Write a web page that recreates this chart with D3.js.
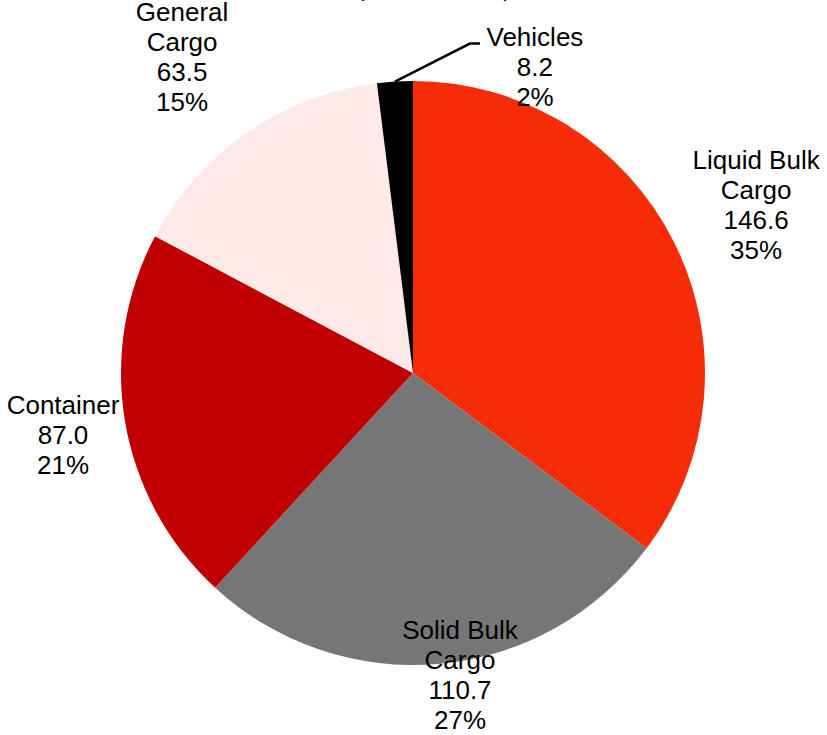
<!DOCTYPE html>
<html>
<head>
<meta charset="utf-8">
<script src="https://cdn.jsdelivr.net/npm/d3@7"></script>
<style>
  body { margin: 0; background: #fff; }
  text { font-family: "Liberation Sans", Arial, sans-serif; font-size: 26px; fill: #000; }
</style>
</head>
<body>
<div id="chart"></div>
<script>
// cargo throughput, million tonnes
const categories = ['Liquid Bulk Cargo', 'Solid Bulk Cargo', 'Container', 'General Cargo', 'Vehicles'];
const labelLines = [['Liquid Bulk', 'Cargo'], ['Solid Bulk', 'Cargo'], ['Container'], ['General', 'Cargo'], ['Vehicles']];
const values = [146.6, 110.7, 87.0, 63.5, 8.2];
const colors = ['#f42d08', '#767676', '#c00000', '#fde9e7', '#000000'];

const width = 827, height = 735;
const cx = 413, cy = 373, radius = 292;
const lineH = 30;

// label placement: [distance as fraction of radius, angle nudge in degrees]
const labelPos = [[1.308, 0.5], [1.048, -3.6], [1.217, -0.3], [1.34, -1.6], null];

const svg = d3.select('#chart').append('svg')
    .attr('width', width)
    .attr('height', height);

// title sits off the top edge in the original, only its bottom shows
svg.append('text')
    .attr('x', 434)
    .attr('y', -4)
    .attr('text-anchor', 'middle')
    .style('font-size', '22px')
    .text('(Million Tonnes)');

const total = d3.sum(values);
const rows = categories.map((c, i) => ({name: c, lines: labelLines[i], value: values[i], color: colors[i], i: i}));

const pie = d3.pie().sort(null).value(d => d.value);
const arc = d3.arc().innerRadius(0).outerRadius(radius);
const arcs = pie(rows);

const g = svg.append('g').attr('transform', `translate(${cx},${cy})`);

g.selectAll('path')
    .data(arcs)
  .join('path')
    .attr('d', arc)
    .attr('fill', d => d.data.color);

const fmt = d3.format('.1f');

function labelText(d) {
    const pct = Math.round(d.data.value / total * 100) + '%';
    return d.data.lines.concat([fmt(d.data.value), pct]);
}

arcs.forEach(d => {
    const mid = (d.startAngle + d.endAngle) / 2;
    const pos = labelPos[d.data.i];
    let lx, ly;
    if (pos) {
        const r = radius * pos[0];
        const a = mid + pos[1] * Math.PI / 180;
        lx = Math.sin(a) * r;
        ly = -Math.cos(a) * r;
    } else {
        // small slice: leader line out to the upper right
        const x0 = Math.sin(mid) * radius, y0 = -Math.cos(mid) * radius;
        const x1 = x0 + 75, y1 = y0 - 38;
        g.append('polyline')
            .attr('points', [[x0, y0], [x1, y1], [x1 + 10, y1]].map(p => p.join(',')).join(' '))
            .attr('fill', 'none')
            .attr('stroke', '#000')
            .attr('stroke-width', 2.5);
        lx = x1 + 65;
        ly = y1 + 23;
    }
    const lines = labelText(d);
    const t = g.append('text')
        .attr('text-anchor', 'middle')
        .attr('transform', `translate(${lx},${ly})`);
    lines.forEach((s, k) => {
        t.append('tspan')
            .attr('x', 0)
            .attr('y', (k - (lines.length - 1) / 2) * lineH)
            .attr('dy', '0.35em')
            .text(s);
    });
});
</script>
</body>
</html>
